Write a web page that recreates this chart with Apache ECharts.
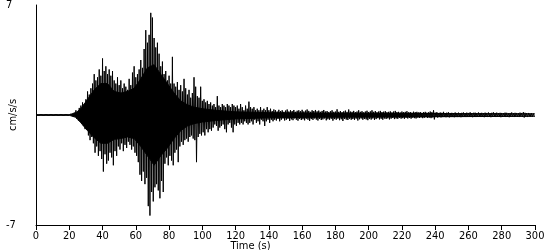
<!DOCTYPE html>
<html>
<head>
<meta charset="utf-8">
<script src="https://cdn.jsdelivr.net/npm/echarts@6/dist/echarts.min.js"></script>
<style>html,body{margin:0;padding:0;background:#fff}#c{width:550px;height:250px}</style>
</head>
<body>
<div id="c"></div>
<script>
// Time ticks (s)
const xTicks = [0,20,40,60,80,100,120,140,160,180,200,220,240,260,280,300];
const yTickLabels = [-7, 7];
// Upper peaks per second (cm/s/s), t = 0..299
const hi = [
0.03,0.03,0.03,0.03,0.03,0.03,0.03,0.03,0.03,0.03,
0.03,0.03,0.03,0.03,0.03,0.03,0.03,0.03,0.03,0.03,
0.05,0.06,0.08,0.15,0.3,0.2,0.45,0.6,0.8,0.7,
1.0,1.5,1.3,1.7,2.0,2.6,2.2,2.4,2.9,2.5,
3.6,2.8,3.1,2.6,2.9,2.5,2.8,2.2,2.0,2.4,
1.9,2.2,1.7,2.0,1.8,1.6,2.3,1.9,2.7,3.1,
2.4,2.6,2.9,3.5,3.0,4.2,5.4,4.6,5.1,6.5,
6.2,4.9,4.3,4.6,3.9,3.1,3.4,2.6,2.8,2.2,
2.5,2.0,3.7,2.0,1.8,2.1,1.6,1.9,1.5,2.3,
1.7,1.3,1.6,1.1,1.4,2.4,1.8,1.2,1.1,1.8,
0.9,1.0,0.8,0.9,0.7,0.8,0.6,0.7,0.5,1.2,
0.6,0.5,0.7,0.6,0.5,0.7,0.6,0.5,0.7,0.6,
0.5,0.6,0.4,0.7,0.5,0.3,0.6,0.4,0.85,0.5,
0.4,0.5,0.3,0.4,0.3,0.5,0.3,0.4,0.3,0.5,
0.3,0.4,0.25,0.35,0.3,0.22,0.33,0.25,0.3,0.2,
0.28,0.35,0.22,0.3,0.25,0.32,0.2,0.27,0.3,0.24,
0.33,0.22,0.28,0.35,0.26,0.2,0.3,0.25,0.32,0.23,
0.28,0.2,0.26,0.32,0.22,0.25,0.18,0.24,0.3,0.2,
0.22,0.36,0.2,0.25,0.18,0.23,0.28,0.2,0.35,0.22,
0.2,0.26,0.18,0.22,0.3,0.2,0.24,0.17,0.22,0.27,
0.19,0.23,0.3,0.2,0.25,0.18,0.22,0.26,0.19,0.21,
0.24,0.18,0.2,0.23,0.17,0.22,0.26,0.19,0.2,0.16,
0.22,0.18,0.2,0.24,0.17,0.19,0.15,0.21,0.18,0.2,
0.16,0.19,0.14,0.18,0.2,0.15,0.17,0.22,0.18,0.3,
0.15,0.18,0.13,0.16,0.14,0.2,0.12,0.15,0.17,0.13,
0.14,0.12,0.16,0.13,0.15,0.11,0.14,0.16,0.12,0.15,
0.13,0.17,0.12,0.14,0.15,0.12,0.16,0.13,0.14,0.12,
0.15,0.13,0.16,0.12,0.14,0.17,0.13,0.15,0.12,0.14,
0.13,0.12,0.15,0.14,0.11,0.13,0.16,0.12,0.14,0.13,
0.12,0.15,0.13,0.18,0.14,0.12,0.13,0.11,0.12,0.1
];
// Lower peaks per second (cm/s/s), at t + 0.5
const lo = [
-0.03,-0.03,-0.03,-0.03,-0.03,-0.03,-0.03,-0.03,-0.03,-0.03,
-0.03,-0.03,-0.03,-0.03,-0.03,-0.03,-0.03,-0.03,-0.03,-0.03,
-0.04,-0.06,-0.1,-0.1,-0.25,-0.35,-0.3,-0.5,-0.7,-0.9,
-0.8,-1.3,-1.6,-1.4,-1.8,-2.4,-2.0,-2.6,-2.3,-2.8,
-3.6,-2.5,-3.1,-2.9,-2.4,-2.7,-3.2,-2.3,-2.6,-2.0,
-2.2,-1.8,-2.3,-1.9,-2.1,-1.7,-1.9,-2.2,-2.0,-2.4,
-2.6,-3.0,-3.8,-4.2,-3.6,-4.4,-4.0,-5.8,-6.4,-4.9,
-5.5,-4.6,-4.4,-4.8,-5.3,-4.2,-4.9,-3.1,-2.7,-3.2,
-2.6,-2.9,-3.2,-2.4,-2.2,-3.0,-2.0,-1.7,-1.9,-1.6,
-1.5,-1.7,-1.4,-1.3,-1.5,-1.6,-3.0,-1.4,-1.2,-1.3,
-1.1,-1.3,-0.9,-1.1,-0.9,-1.0,-0.8,-0.6,-0.7,-1.0,
-0.8,-0.7,-0.6,-0.9,-1.1,-0.6,-0.5,-0.8,-1.1,-0.6,
-0.7,-0.5,-0.6,-0.5,-0.6,-0.4,-0.5,-0.6,-0.5,-0.4,
-0.6,-0.3,-0.5,-0.4,-0.6,-0.3,-0.4,-0.7,-0.4,-0.3,
-0.5,-0.3,-0.4,-0.3,-0.35,-0.25,-0.4,-0.3,-0.22,-0.35,
-0.3,-0.24,-0.38,-0.28,-0.33,-0.22,-0.3,-0.36,-0.25,-0.32,
-0.27,-0.34,-0.24,-0.3,-0.38,-0.26,-0.31,-0.22,-0.29,-0.35,
-0.25,-0.32,-0.28,-0.22,-0.34,-0.27,-0.3,-0.24,-0.36,-0.26,
-0.3,-0.23,-0.33,-0.27,-0.38,-0.25,-0.29,-0.32,-0.24,-0.3,
-0.26,-0.31,-0.23,-0.35,-0.27,-0.22,-0.3,-0.25,-0.28,-0.33,
-0.24,-0.29,-0.22,-0.31,-0.26,-0.2,-0.28,-0.24,-0.3,-0.22,
-0.25,-0.21,-0.28,-0.23,-0.19,-0.26,-0.22,-0.24,-0.18,-0.23,
-0.2,-0.24,-0.18,-0.22,-0.19,-0.23,-0.17,-0.2,-0.22,-0.16,
-0.19,-0.15,-0.2,-0.17,-0.14,-0.19,-0.16,-0.2,-0.15,-0.28,
-0.13,-0.16,-0.12,-0.15,-0.13,-0.11,-0.14,-0.12,-0.15,-0.11,
-0.12,-0.14,-0.1,-0.13,-0.11,-0.14,-0.12,-0.1,-0.13,-0.11,
-0.12,-0.1,-0.14,-0.11,-0.13,-0.12,-0.1,-0.13,-0.11,-0.14,
-0.11,-0.13,-0.1,-0.14,-0.12,-0.11,-0.13,-0.1,-0.12,-0.14,
-0.12,-0.1,-0.13,-0.11,-0.14,-0.12,-0.1,-0.13,-0.11,-0.12,
-0.13,-0.1,-0.12,-0.16,-0.11,-0.13,-0.1,-0.12,-0.11,-0.08
];
// Solid (densely filled) core of the trace
const coreT  = [0, 20, 24, 27, 31, 35, 39, 43, 47, 51, 55, 59, 63, 67, 71, 75, 79, 83, 87, 91, 95, 100, 108, 120, 140, 170, 220, 300];
const coreHi = [0.02,0.02,0.15,0.4,1.0,1.6,2.0,2.0,1.5,1.4,1.5,1.7,2.3,3.0,3.2,2.6,2.0,1.4,0.9,0.65,0.5,0.4,0.3,0.2,0.15,0.12,0.1,0.07];
const coreLo = [-0.02,-0.02,-0.15,-0.5,-1.0,-1.45,-1.8,-1.8,-1.55,-1.5,-1.4,-1.5,-2.0,-2.6,-3.2,-2.6,-2.1,-1.5,-1.0,-0.7,-0.55,-0.45,-0.35,-0.25,-0.18,-0.14,-0.12,-0.08];

const points = [];
for (let i = 0; i < hi.length; i++) {
  points.push([i, hi[i]]);
  points.push([i + 0.5, lo[i]]);
}
const coreUp = coreT.map((t, i) => [t, coreHi[i]]);
const coreDown = coreT.map((t, i) => [t, coreLo[i]]);

const chart = echarts.init(document.getElementById('c'), null, {renderer: 'canvas'});
const font = '"Liberation Sans Narrow", "DejaVu Sans Condensed", "Liberation Sans", Arial, sans-serif';
chart.setOption({
  animation: false,
  grid: {left: 36, right: 15, top: 5, bottom: 25, containLabel: false, outerBoundsMode: 'none'},
  xAxis: {
    type: 'value', min: 0, max: 300, interval: 20,
    name: 'Time (s)', nameLocation: 'middle', nameGap: 16, nameMoveOverlap: false,
    nameTextStyle: {color: '#000', fontFamily: font, fontSize: 11, verticalAlign: 'top',
      padding: [0, 70, 0, 0]},
    axisLine: {show: true, onZero: false, lineStyle: {color: '#000', width: 1}},
    axisTick: {show: true, length: 5, lineStyle: {color: '#000'}},
    axisLabel: {color: '#000', fontFamily: font, fontSize: 11, margin: 6,
      formatter: v => xTicks.includes(v) ? String(v) : ''},
    splitLine: {show: false}
  },
  yAxis: {
    type: 'value', min: -7, max: 7, interval: 14,
    name: 'cm/s/s', nameLocation: 'middle', nameGap: 17, nameRotate: 90, nameMoveOverlap: false,
    nameTextStyle: {color: '#000', fontFamily: font, fontSize: 11},
    axisLine: {show: true, lineStyle: {color: '#000', width: 1}},
    axisTick: {show: false},
    axisLabel: {color: '#000', fontFamily: font, fontSize: 11, margin: 30, align: 'left',
      formatter: v => yTickLabels.includes(v) ? String(v) : ''},
    splitLine: {show: false}
  },
  series: [
    {type: 'line', data: coreUp, showSymbol: false, symbol: 'none', silent: true,
     lineStyle: {color: '#000', width: 1}, areaStyle: {color: '#000', opacity: 1}},
    {type: 'line', data: coreDown, showSymbol: false, symbol: 'none', silent: true,
     lineStyle: {color: '#000', width: 1}, areaStyle: {color: '#000', opacity: 1}},
    {type: 'line', data: points, showSymbol: false, symbol: 'none', silent: true,
     lineStyle: {color: '#000', width: 1}}
  ]
});
</script>
</body>
</html>
